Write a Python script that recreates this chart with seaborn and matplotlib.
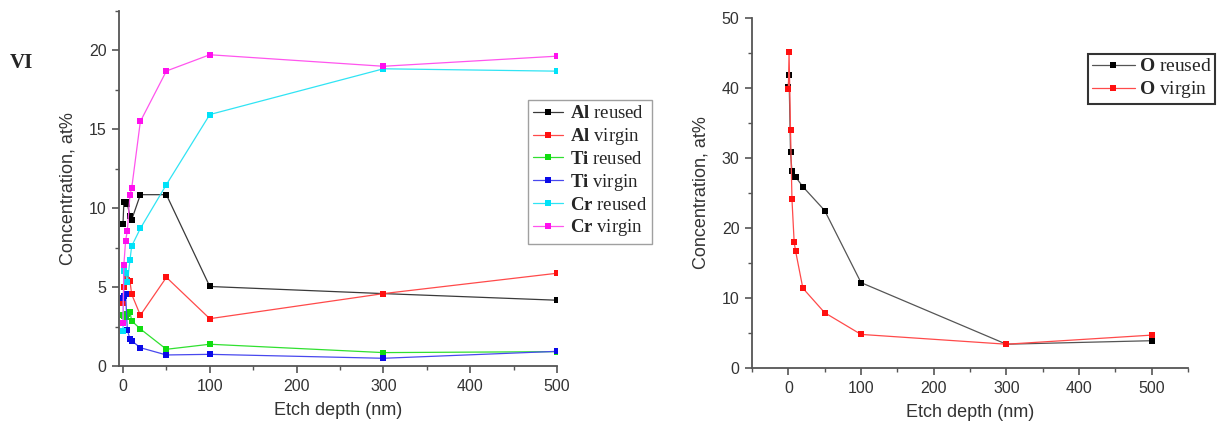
import matplotlib
matplotlib.use("Agg")
import matplotlib.pyplot as plt
from matplotlib.ticker import MultipleLocator
import seaborn as sns

# ── Data ───────────────────────────────────────────────────────────
depth = [0, 1, 3, 5, 8, 10, 20, 50, 100, 300, 500]

al_reused = [9.0, 10.37, 10.37, 10.27, 9.52, 9.27, 10.86, 10.86, 5.04, 4.59, 4.17]
al_virgin = [4.0, 5.0, 5.5, 5.45, 5.4, 4.55, 3.22, 5.62, 3.0, 4.59, 5.88]
ti_reused = [3.24, 3.2, 3.13, 3.3, 3.45, 2.86, 2.35, 1.06, 1.38, 0.85, 0.91]
ti_virgin = [4.3, 4.45, 4.55, 2.3, 1.7, 1.6, 1.16, 0.7, 0.74, 0.49, 0.93]
cr_reused = [2.25, 6.03, 5.9, 5.3, 6.7, 7.6, 8.72, 11.5, 15.94, 18.84, 18.69]
cr_virgin = [2.75, 6.4, 7.94, 8.57, 10.84, 11.26, 15.5, 18.7, 19.73, 19.0, 19.64]

o_reused = [40.2, 41.9, 30.8, 28.1, 27.3, 27.3, 25.9, 22.5, 12.2, 3.4, 3.9]
o_virgin = [39.8, 45.1, 34.0, 24.1, 18.0, 16.7, 11.4, 7.9, 4.8, 3.4, 4.7]

left_series = [
    (r"$\mathbf{Al}$ reused", al_reused, "#3a3a3a", "#000000"),
    (r"$\mathbf{Al}$ virgin", al_virgin, "#ff4a4a", "#ff1010"),
    (r"$\mathbf{Ti}$ reused", ti_reused, "#30e030", "#10dd10"),
    (r"$\mathbf{Ti}$ virgin", ti_virgin, "#4848ee", "#0a0ae8"),
    (r"$\mathbf{Cr}$ reused", cr_reused, "#30e4f4", "#00e2f8"),
    (r"$\mathbf{Cr}$ virgin", cr_virgin, "#ff55ee", "#ff10ee"),
]
right_series = [
    (r"$\mathbf{O}$ reused", o_reused, "#555555", "#000000"),
    (r"$\mathbf{O}$ virgin", o_virgin, "#ff4a4a", "#ff1010"),
]

# ── Style ──────────────────────────────────────────────────────────
sns.set_style("ticks")
plt.rcParams["font.family"] = ["Liberation Sans", "DejaVu Sans"]
plt.rcParams["mathtext.fontset"] = "custom"
plt.rcParams["mathtext.rm"] = "Liberation Serif"
plt.rcParams["mathtext.bf"] = "Liberation Serif:bold"
axis_grey = "#555555"

fig = plt.figure(figsize=(12.18, 4.25), dpi=100)
ax1 = fig.add_axes([0.0977, 0.1388, 0.3596, 0.8352])
ax2 = fig.add_axes([0.6174, 0.1341, 0.3580, 0.8235])


def draw(ax, series):
    for label, vals, lc, mc in series:
        sns.lineplot(x=depth, y=vals, ax=ax, color=lc, marker="s",
                     markersize=4.0, markeredgewidth=0, markerfacecolor=mc,
                     linewidth=0.9, label=label, sort=False, estimator=None)


def style_axes(ax, xlim, ylim, ymaj, ymin):
    ax.set_xlim(*xlim)
    ax.set_ylim(*ylim)
    ax.xaxis.set_major_locator(MultipleLocator(100))
    ax.xaxis.set_minor_locator(MultipleLocator(50))
    ax.yaxis.set_major_locator(MultipleLocator(ymaj))
    ax.yaxis.set_minor_locator(MultipleLocator(ymin))
    for side in ["top", "right"]:
        ax.spines[side].set_visible(False)
    for side in ["left", "bottom"]:
        ax.spines[side].set_color(axis_grey)
        ax.spines[side].set_linewidth(1.3)
    ax.tick_params(which="major", direction="out", length=5, width=1.2,
                   color=axis_grey, labelsize=11.5, labelcolor="#333333", pad=4)
    ax.tick_params(which="minor", direction="out", length=3, width=1.0,
                   color=axis_grey)
    ax.set_xlabel("Etch depth (nm)", fontsize=13, color="#333333", labelpad=6)
    ax.set_ylabel("Concentration, at%", fontsize=13, color="#333333",
                  labelpad=9)


legend_font = {"family": "Liberation Serif", "size": 13.5}

# ── Left panel: metals ─────────────────────────────────────────────
draw(ax1, left_series)
style_axes(ax1, (-4.6, 500), (0, 22.5), 5, 2.5)
h, l = ax1.get_legend_handles_labels()
leg1 = ax1.legend(h, l, loc="upper left", bbox_to_anchor=(0.4335, 0.7647),
                  bbox_transform=fig.transFigure, borderaxespad=0,
                  prop=legend_font, frameon=True, fancybox=False,
                  handlelength=1.6, handletextpad=0.35, labelspacing=0.2,
                  borderpad=0.28)
leg1.get_frame().set_edgecolor("#888888")
leg1.get_frame().set_linewidth(1.0)

# ── Right panel: oxygen ────────────────────────────────────────────
draw(ax2, right_series)
style_axes(ax2, (-50, 550), (0, 50), 10, 5)
h, l = ax2.get_legend_handles_labels()
leg2 = ax2.legend(h, l, loc="upper left", bbox_to_anchor=(0.8933, 0.873),
                  bbox_transform=fig.transFigure, borderaxespad=0,
                  prop={"family": "Liberation Serif", "size": 14},
                  frameon=True, fancybox=False,
                  handlelength=2.2, handletextpad=0.2, labelspacing=0.2,
                  borderpad=0.2)
leg2.get_frame().set_edgecolor("black")
leg2.get_frame().set_linewidth(1.5)

fig.text(0.008, 1 - 63 / 425, "VI", fontsize=15, fontweight="bold",
         family="Liberation Serif", va="center", ha="left")

fig.savefig("out.png", dpi=100)
